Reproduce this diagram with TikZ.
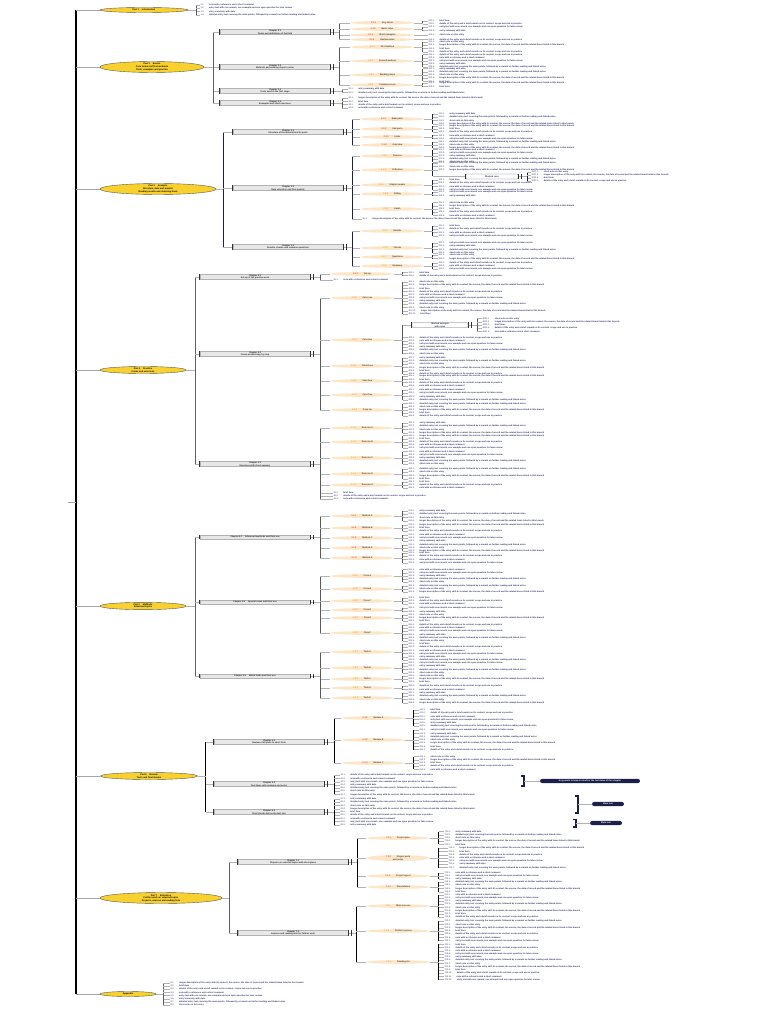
\documentclass[tikz,border=0pt]{standalone}
\usepackage{fontspec}
\setmainfont{Liberation Sans}
\usetikzlibrary{shapes.geometric}

\definecolor{topicgold}{HTML}{F8D12F}
\definecolor{pillfill}{HTML}{FDE6C8}
\definecolor{labred}{HTML}{E5433A}
\definecolor{laborange}{HTML}{F29B4B}
\definecolor{labyellow}{HTML}{E2B714}
\definecolor{leafblue}{HTML}{2B2F66}
\definecolor{navy}{HTML}{1C1F4A}
\definecolor{boxfill}{HTML}{E7E7E7}

\newcommand\leaffont{\fontsize{2.2}{2.5}\selectfont\bfseries}
\newcommand\boxfont{\fontsize{2.2}{2.6}\selectfont\bfseries}
\newcommand\topicfont{\fontsize{2.3}{2.6}\selectfont\bfseries}

\tikzset{
  topic/.style={ellipse, draw=black!65, line width=0.4pt, fill=topicgold, inner sep=0.2pt, font=\topicfont, align=center},
  partbox/.style={rectangle, draw=gray!60, fill=boxfill, line width=0.3pt, minimum width=110, minimum height=4.6, inner sep=0.3pt, font=\boxfont, align=center, text=black!85},
  pill/.style={ellipse, fill=pillfill, minimum width=63, minimum height=3.6, inner sep=0pt, font=\boxfont, text=black!75},
  leaf/.style={anchor=west, inner sep=0.3pt, font=\leaffont, text=leafblue},
  notebox/.style={rectangle, rounded corners=1pt, draw=black!60, fill=white, line width=0.3pt, minimum height=5, inner sep=0.4pt, font=\leaffont, align=center, text=leafblue},
  navypill/.style={rectangle, rounded corners=2.2pt, fill=navy, text=white, font=\leaffont, minimum height=4.2, inner sep=0.5pt},
  spinebar/.style={black, line width=1.3pt},
  stem/.style={gray!70, line width=0.35pt},
  stembar/.style={gray!75!black, line width=1pt},
  navybar/.style={navy, line width=1.1pt},
  twig/.style={gray!60, line width=0.3pt},
  twigbar/.style={black!65, line width=0.6pt},
  leafbar/.style={twigbar},
  endbar/.style={black!80, line width=0.8pt}
}

% leaf texts of different lengths
\newcommand\filler[1]{\ifcase#1 short note on this entry%
\or details of the entry and a brief remark on its content, scope and use in practice%
\or entry summary with date%
\or longer description of the entry with its context, the source, the date of record and the related items listed in this branch%
\or note with a reference and a short comment%
\or detailed entry text covering the main points, followed by a remark on further reading and linked notes%
\or brief item%
\or entry text with one remark, one example and one open question for later review%
\fi}

% bracket joint: parent -> child
\newcommand\joint[4][twigbar]{%
  \coordinate (j) at ([xshift=#4]#2.east);
  \draw[#1] (j) -- (j |- #3.west);
  \draw[twig] (#2.east) -- (j) (j |- #3.west) -- (#3.west);}

% a column of leaves: [gap]{parent}{x}{y centre}{count}{code}
\newcommand\leafs[6][9]{%
  \foreach \i in {1,...,#5}{%
    \pgfmathsetmacro\ly{#4-(#5-1)*1.6+(\i-1)*3.2}%
    \pgfmathtruncatemacro\k{mod(3*\i+#6,8)}%
    \node[leaf] (#2-\i) at (#3,\ly) {\textcolor{leafblue!70}{#6.\i.}\hspace{5pt}\filler{\k}};
    \joint[leafbar]{#2}{#2-\i}{#1}
  }}

% orange pill: name, x, y, label colour, label, text
\newcommand\pill[6]{\node[pill] (#1) at (#2,#3) {\textcolor{#4}{#5}\hspace{6pt}#6};}

\begin{document}
\begin{tikzpicture}[x=1pt,y=-1pt]
\useasboundingbox (0,0) rectangle (768,1024);
\coordinate (spine) at (76,0);
\coordinate (root) at (68,502);

% part 1
\node[topic, minimum width=88, minimum height=5] (t1) at (144,10) {Part 1 \quad Introduction};
\leafs[8]{t1}{200}{10}{4}{1}

% part 2
\node[topic, minimum width=104, minimum height=9] (t2) at (152,67) {Part 2 \quad Basics\\Core terms and first methods\\Tools, examples and practice};
\node[partbox] (b21) at (275,32) {Chapter 2.1\\Terms and definitions of the field};
\node[partbox] (b22) at (275,67) {Chapter 2.2\\Methods and working steps in order};
\node[partbox] (b23) at (275,91) {Chapter 2.3\\Tools used in the first stage};
\node[partbox] (b24) at (275,103) {Chapter 2.4\\Examples and short exercises};
\foreach \b in {b21,b22,b23,b24} {\joint[stembar]{t2}{\b}{9}}
\pill{p211}{382}{22.7}{labred}{2.1.1}{Key terms}
\pill{p212}{382}{29}{labred}{2.1.2}{Basic rules}
\pill{p213}{382}{35}{labred}{2.1.3}{Short examples}
\pill{p214}{382}{39.5}{labred}{2.1.4}{Review notes}
\foreach \p in {p211,p212,p213,p214} {\joint{b21}{\p}{9}}
\pill{p221}{382}{47}{laborange}{2.2.1}{First method}
\pill{p222}{382}{61}{laborange}{2.2.2}{Second method}
\pill{p223}{382}{75}{laborange}{2.2.3}{Working steps}
\pill{p224}{382}{85}{laborange}{2.2.4}{Common errors}
\foreach \p in {p221,p222,p223,p224} {\joint{b22}{\p}{9}}
\leafs{p211}{428}{22.7}{2}{211}
\leafs{p212}{428}{29}{2}{212}
\leafs{p213}{428}{35}{1}{213}
\leafs{p214}{428}{39.5}{1}{214}
\leafs{p221}{428}{47}{4}{221}
\leafs{p222}{428}{61}{5}{222}
\leafs{p223}{428}{75}{5}{223}
\leafs{p224}{428}{85}{2}{224}
\leafs[12]{b23}{348}{91}{2}{23}
\leafs[12]{b24}{348}{103}{4}{24}

% part 3
\tikzset{leafbar/.style={navybar}}
\node[topic, minimum width=116, minimum height=9] (t3) at (158,189) {Part 3 \quad Analysis\\Structure, data and models\\Reading results and checking them};
\node[partbox] (b31) at (288,132) {Chapter 3.1\\Structure of the material and its parts};
\node[partbox] (b32) at (288,188) {Chapter 3.2\\Data collection and first models};
\node[partbox] (b33) at (288,247) {Chapter 3.3\\Results, checks and common questions};
\foreach \b in {b31,b32,b33} {\joint[navybar]{t3}{\b}{7}}
\pill{p311}{392}{119}{labred}{3.1.1}{Main parts}
\pill{p312}{392}{129}{labred}{3.1.2}{Sub parts}
\pill{p313}{392}{137}{labred}{3.1.3}{Links}
\pill{p314}{392}{145}{labred}{3.1.4}{Overview}
\foreach \p in {p311,p312,p313,p314} {\joint[navybar]{b31}{\p}{9}}
\pill{p321}{392}{156}{laborange}{3.2.1}{Sources}
\pill{p322}{392}{170}{laborange}{3.2.2}{Collection}
\pill{p323}{392}{185}{laborange}{3.2.3}{Simple models}
\pill{p324}{392}{194}{laborange}{3.2.4}{Fitting}
\pill{p325}{392}{209}{laborange}{3.2.5}{Limits}
\foreach \p in {p321,p322,p323,p324,p325} {\joint[navybar]{b32}{\p}{9}}
\leafs{b32}{362}{219}{1}{32}
\pill{p331}{392}{231}{labyellow}{3.3.1}{Results}
\pill{p332}{392}{248}{labyellow}{3.3.2}{Checks}
\pill{p333}{392}{257}{labyellow}{3.3.3}{Questions}
\pill{p334}{392}{266}{labyellow}{3.3.4}{Summary}
\foreach \p in {p331,p332,p333,p334} {\joint[navybar]{b33}{\p}{9}}
\leafs{p311}{438}{119}{4}{311}
\leafs{p312}{438}{129}{3}{312}
\leafs{p313}{438}{137}{2}{313}
\leafs{p314}{438}{145}{3}{314}
\leafs{p321}{438}{156}{5}{321}
\leafs{p322}{438}{166.5}{3}{322}
\node[notebox, minimum width=52] (w1) at (492,176.5) {Worked case};
\joint[navybar]{p322}{w1}{9}
\leafs{w1}{531}{176.5}{4}{3221}
\leafs{p323}{438}{185}{4}{323}
\leafs{p324}{438}{194}{2}{324}
\leafs{p325}{438}{209}{5}{325}
\leafs{p331}{438}{231}{4}{331}
\leafs{p332}{438}{248}{4}{332}
\leafs{p333}{438}{257}{2}{333}
\leafs{p334}{438}{266}{3}{334}

% part 4
\tikzset{leafbar/.style={twigbar}}
\node[topic, minimum width=86, minimum height=7] (t4) at (143,370) {Part 4 \quad Practice\\Cases and exercises};
\node[partbox] (b41) at (255,277) {Chapter 4.1\\Set-up of the practice work};
\node[partbox] (b42) at (255,354) {Chapter 4.2\\Cases worked step by step};
\node[partbox] (b43) at (255,464) {Chapter 4.3\\Exercises with short answers};
\foreach \b in {b41,b42,b43} {\joint[stembar]{t4}{\b}{9}}
\pill{p411}{362}{274}{labred}{4.1.1}{Set-up}
\joint{b41}{p411}{10}
\leafs[10]{b41}{333}{280}{1}{41}
\leafs{p411}{408}{274}{2}{411}
\pill{p421}{362}{298}{laborange}{4.2.1}{Case one}
\pill{p422}{362}{340}{laborange}{4.2.2}{Case two}
\pill{p423}{362}{366}{laborange}{4.2.3}{Case three}
\pill{p424}{362}{381}{laborange}{4.2.4}{Case four}
\pill{p425}{362}{395}{laborange}{4.2.5}{Case five}
\pill{p426}{362}{410}{laborange}{4.2.6}{Case six}
\foreach \p in {p421,p422,p423,p424,p425,p426} {\joint{b42}{\p}{10}}
\leafs{p421}{408}{298}{11}{421}
\node[notebox, minimum width=56] (w2) at (440,325) {Worked example\\with notes};
\joint{p422}{w2}{9}
\leafs{w2}{482}{325}{5}{4221}
\leafs{p422}{408}{345.5}{6}{422}
\leafs{p423}{408}{366}{6}{423}
\leafs{p424}{408}{381}{4}{424}
\leafs{p425}{408}{395}{4}{425}
\leafs{p426}{408}{410}{5}{426}
\pill{p431}{362}{428}{labyellow}{4.3.1}{Exercise A}
\pill{p432}{362}{442}{labyellow}{4.3.2}{Exercise B}
\pill{p433}{362}{458}{labyellow}{4.3.3}{Exercise C}
\pill{p434}{362}{474}{labyellow}{4.3.4}{Exercise D}
\pill{p435}{362}{485}{labyellow}{4.3.5}{Exercise E}
\foreach \p in {p431,p432,p433,p434,p435} {\joint{b43}{\p}{10}}
\leafs[10]{b43}{333}{496}{3}{43}
\leafs{p431}{408}{428}{4}{431}
\leafs{p432}{408}{442}{5}{432}
\leafs{p433}{408}{458}{5}{433}
\leafs{p434}{408}{474}{4}{434}
\leafs{p435}{408}{485}{3}{435}

% part 5
\node[topic, minimum width=86, minimum height=7] (t5) at (143,606) {Part 5 \quad Methods\\Advanced topics};
\node[partbox] (b51) at (255,537) {Chapter 5.1 \quad Advanced methods and their use};
\node[partbox] (b52) at (255,602) {Chapter 5.2 \quad Special cases and their use};
\node[partbox] (b53) at (255,676) {Chapter 5.3 \quad Mixed tasks and their use};
\foreach \b in {b51,b52,b53} {\joint[stembar]{t5}{\b}{9}}
\pill{p511}{362}{516}{labred}{5.1.1}{Method A}
\pill{p512}{362}{528}{labred}{5.1.2}{Method B}
\pill{p513}{362}{538}{labred}{5.1.3}{Method C}
\pill{p514}{362}{548}{labred}{5.1.4}{Method D}
\pill{p515}{362}{558}{labred}{5.1.5}{Method E}
\foreach \p in {p511,p512,p513,p514,p515} {\joint{b51}{\p}{10}}
\pill{p521}{362}{576}{laborange}{5.2.1}{Case A}
\pill{p522}{362}{589}{laborange}{5.2.2}{Case B}
\pill{p523}{362}{601}{laborange}{5.2.3}{Case C}
\pill{p524}{362}{610}{laborange}{5.2.4}{Case D}
\pill{p525}{362}{618}{laborange}{5.2.5}{Case E}
\pill{p526}{362}{633}{laborange}{5.2.6}{Case F}
\foreach \p in {p521,p522,p523,p524,p525,p526} {\joint{b52}{\p}{10}}
\pill{p531}{362}{652}{labyellow}{5.3.1}{Task A}
\pill{p532}{362}{668}{labyellow}{5.3.2}{Task B}
\pill{p533}{362}{679}{labyellow}{5.3.3}{Task C}
\pill{p534}{362}{688}{labyellow}{5.3.4}{Task D}
\pill{p535}{362}{698}{labyellow}{5.3.5}{Task E}
\foreach \p in {p531,p532,p533,p534,p535} {\joint{b53}{\p}{10}}
\leafs{p511}{408}{516}{4}{511}
\leafs{p512}{408}{528}{3}{512}
\leafs{p513}{408}{538}{3}{513}
\leafs{p514}{408}{548}{3}{514}
\leafs{p515}{408}{558}{4}{515}
\leafs{p521}{408}{576}{5}{521}
\leafs{p522}{408}{589}{3}{522}
\leafs{p523}{408}{601}{3}{523}
\leafs{p524}{408}{610}{2}{524}
\leafs{p525}{408}{618}{3}{525}
\leafs{p526}{408}{633}{6}{526}
\leafs{p531}{408}{652}{6}{531}
\leafs{p532}{408}{668}{4}{532}
\leafs{p533}{408}{679}{3}{533}
\leafs{p534}{408}{688}{2}{534}
\leafs{p535}{408}{698}{4}{535}

% part 6
\tikzset{leafbar/.style={spinebar}}
\node[topic, minimum width=97, minimum height=7] (t6) at (149,776) {Part 6 \quad Review\\Tests and final checks};
\node[partbox] (b61) at (269,742) {Chapter 6.1\\Review of all parts in short form};
\node[partbox] (b62) at (269,784) {Chapter 6.2\\Test items with answers and notes};
\node[partbox] (b63) at (269,812) {Chapter 6.3\\Final checks before the last test};
\foreach \b in {b61,b62,b63} {\joint[spinebar]{t6}{\b}{8}}
\pill{p611}{373}{718}{labred}{6.1.1}{Review A}
\pill{p612}{373}{740}{labred}{6.1.2}{Review B}
\pill{p613}{373}{763}{labred}{6.1.3}{Review C}
\foreach \p in {p611,p612,p613} {\joint[spinebar]{b61}{\p}{10}}
\leafs{p611}{419}{718}{6}{611}
\leafs{p612}{419}{740}{7}{612}
\leafs{p613}{419}{763}{5}{613}
\leafs[10]{b62}{340}{785}{7}{62}
\leafs[10]{b63}{340}{812}{9}{63}
\node[navypill, minimum width=100] (n1) at (590,781) {Key points to keep in mind for the test items of this chapter};
\node[navypill, minimum width=32] (n2) at (608,804) {Main rule};
\node[navypill, minimum width=32] (n3) at (606,823) {Main rule};
\coordinate (n1b) at (524,781);
\coordinate (n2b) at (578,804);
\coordinate (n3b) at (576,823);
\draw[navybar] (521,776) -- (524,776) -- (524,786) -- (521,786);
\draw[navybar] (575,796) -- (578,796) -- (578,813) -- (575,813);
\draw[navybar] (573,819.5) -- (576,819.5) -- (576,827) -- (573,827);
\draw[twig] (n1b) -- (n1.west);
\draw[twig] (n2b) -- (n2.west);
\draw[twig] (n3b) -- (n3.west);

% part 7
\node[topic, minimum width=122, minimum height=9] (t7) at (161,898) {Part 7 \quad Extension\\Further work on selected topics\\Projects, sources and reading lists};
\node[partbox] (b71) at (293,862) {Chapter 7.1\\Projects on selected topics with short plans};
\node[partbox] (b72) at (293,933) {Chapter 7.2\\Sources and reading lists for further work};
\foreach \b in {b71,b72} {\joint[stembar]{t7}{\b}{7}}
\pill{p711}{398}{838}{labred}{7.1.1}{Project plan}
\node[pill, minimum height=6, align=center] (p712) at (398,858) {\textcolor{labred}{7.1.2}\hspace{6pt}Project work\\and notes};
\pill{p713}{398}{876}{labred}{7.1.3}{Project report}
\pill{p714}{398}{887}{labred}{7.1.4}{Presentation}
\foreach \p in {p711,p712,p713,p714} {\joint[spinebar]{b71}{\p}{9}}
\pill{p721}{398}{906}{laborange}{7.2.1}{Main sources}
\pill{p722}{398}{931}{laborange}{7.2.2}{Further sources}
\pill{p723}{398}{962}{laborange}{7.2.3}{Reading list}
\foreach \p in {p721,p722,p723} {\joint[spinebar]{b72}{\p}{8}}
\leafs{p711}{444}{838}{5}{711}
\leafs{p712}{448}{858}{7}{712}
\leafs{p713}{444}{876}{3}{713}
\leafs{p714}{444}{887}{4}{714}
\leafs{p721}{444}{906}{8}{721}
\leafs{p722}{444}{931}{7}{722}
\leafs{p723}{444}{962}{12}{723}

% part 8
\tikzset{leafbar/.style={stembar}}
\node[topic, minimum width=56, minimum height=5] (t8) at (128,994) {Appendix};
\leafs[7]{t8}{170}{994}{8}{8}

% spine and stems
\draw[spinebar] (t1.west -| spine) -- (t8.west -| spine);
\draw[stem] (root) -- (root -| spine);
\foreach \t in {t1,t2,t3,t4,t5,t6,t7,t8} {\draw[stem] (\t.west -| spine) -- (\t.west);}

% end bars of the boxes
\foreach \b in {b21,b22,b23,b24,b31,b32,b33,b41,b42,b43,b51,b52,b53,b61,b62,b63,b71,b72,w1,w2} {
  \draw[endbar] (\b.north west) -- (\b.south west);
  \draw[endbar] (\b.north east) -- (\b.south east);
  \draw[endbar] ([xshift=3]\b.north east) -- ([xshift=3]\b.south east);
}
\end{tikzpicture}
\end{document}
